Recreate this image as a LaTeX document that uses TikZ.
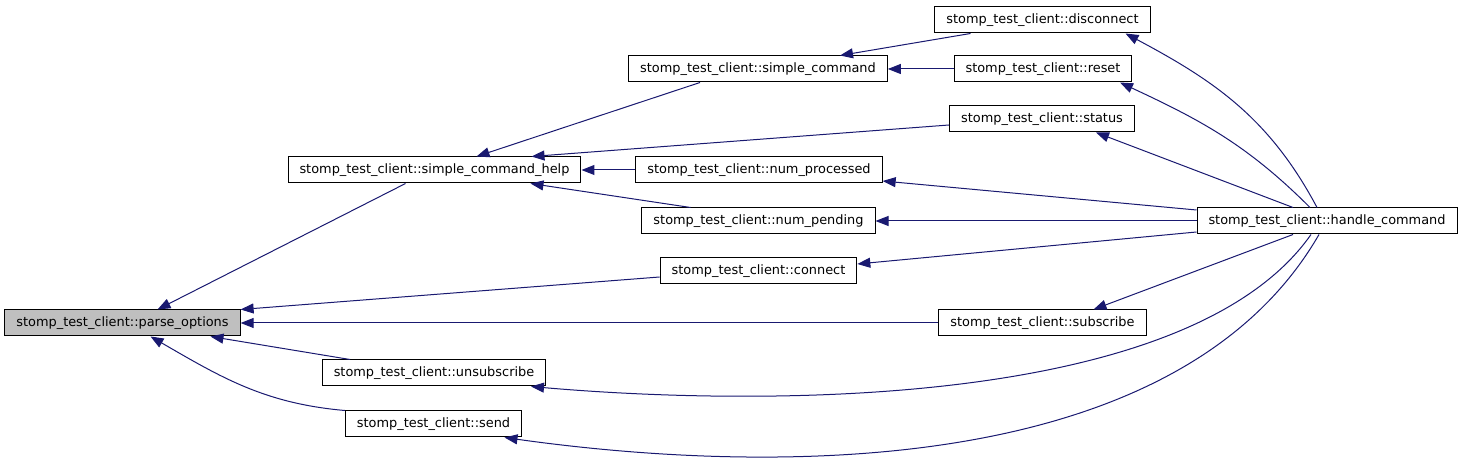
\documentclass[tikz,border=0pt]{standalone}
\usepackage{fontspec}
\usepackage{tikz}
\usetikzlibrary{arrows.meta}
\newfontfamily\fnfont{DejaVu Sans}
\definecolor{edgeblue}{HTML}{191970}
\definecolor{curgray}{HTML}{BFBFBF}

\tikzset{
  fn/.style={draw=black, line width=1bp, fill=white, font=\fnfont\fontsize{12.9bp}{15bp}\selectfont,
    minimum height=26bp, inner xsep=11.5bp, inner ysep=0pt},
  curfn/.style={fn, fill=curgray},
  call/.style={draw=edgeblue, line width=1bp, {Triangle[length=13bp,width=10bp]}-}
}

\begin{document}
\begin{tikzpicture}[x=1bp, y=1bp]
    \useasboundingbox (0, 0) rectangle (1461, 467);

    % Functions
    \node[curfn] (po) at (122.5, 144) {stomp\_test\_client::parse\_options};
    \node[fn] (sch) at (434.5, 297) {stomp\_test\_client::simple\_command\_help};
    \node[fn] (unsub) at (434, 94) {stomp\_test\_client::unsubscribe};
    \node[fn] (send) at (433.5, 43) {stomp\_test\_client::send};
    \node[fn] (sc) at (758, 398) {stomp\_test\_client::simple\_command};
    \node[fn] (nproc) at (759, 297) {stomp\_test\_client::num\_processed};
    \node[fn] (npend) at (758.5, 246) {stomp\_test\_client::num\_pending};
    \node[fn] (conn) at (758.5, 196) {stomp\_test\_client::connect};
    \node[fn] (disc) at (1042.5, 447) {stomp\_test\_client::disconnect};
    \node[fn] (reset) at (1043, 398) {stomp\_test\_client::reset};
    \node[fn] (status) at (1042, 348) {stomp\_test\_client::status};
    \node[fn] (sub) at (1042.5, 144) {stomp\_test\_client::subscribe};
    \node[fn] (hc) at (1327, 246) {stomp\_test\_client::handle\_command};

    % Calls into parse_options
    \draw[call] ([xshift=35bp]po.north) -- ([xshift=-29bp]sch.south);
    \draw[call] (po.north east) -- ([yshift=-6bp]conn.west);
    \draw[call] (po.east) -- (sub.west);
    \draw[call] ([xshift=88bp]po.south) -- ([xshift=-84bp]unsub.north);
    \draw[call] ([xshift=28bp]po.south) to[out=-30, in=175] (send.north west);

    % Calls into simple_command_help
    \draw[call] ([xshift=42bp]sch.north) -- ([xshift=-58bp]sc.south);
    \draw[call] ([xshift=97bp]sch.north) -- ([yshift=-6bp]status.west);
    \draw[call] (sch.east) -- (nproc.west);
    \draw[call] ([xshift=96bp]sch.south) -- ([xshift=-68bp]npend.north);

    % Calls into simple_command
    \draw[call] ([xshift=82bp]sc.north) -- ([xshift=-72bp]disc.south);
    \draw[call] (sc.east) -- (reset.west);

    % Calls from handle_command
    \draw[call] ([xshift=83bp]disc.south) to[out=-28, in=118] ([xshift=-10bp]hc.north);
    \draw[call] ([xshift=77bp]reset.south) to[out=-25, in=135] ([xshift=-17bp]hc.north);
    \draw[call] ([xshift=54bp]status.south) -- ([xshift=-34bp]hc.north);
    \draw[call] ([yshift=-11bp]nproc.east) -- ([yshift=11bp]hc.west);
    \draw[call] (npend.east) -- (hc.west);
    \draw[call] ([yshift=7bp]conn.east) -- ([yshift=-11bp]hc.west);
    \draw[call] ([xshift=51bp]sub.north) -- ([xshift=-34bp]hc.south);
    \draw[call] ([xshift=97bp]unsub.south) to[out=-5, in=-125, looseness=0.7] ([xshift=-16bp]hc.south);
    \draw[call] ([xshift=71bp]send.south) to[out=-8, in=-120, looseness=0.85] ([xshift=-8bp]hc.south);
\end{tikzpicture}
\end{document}
